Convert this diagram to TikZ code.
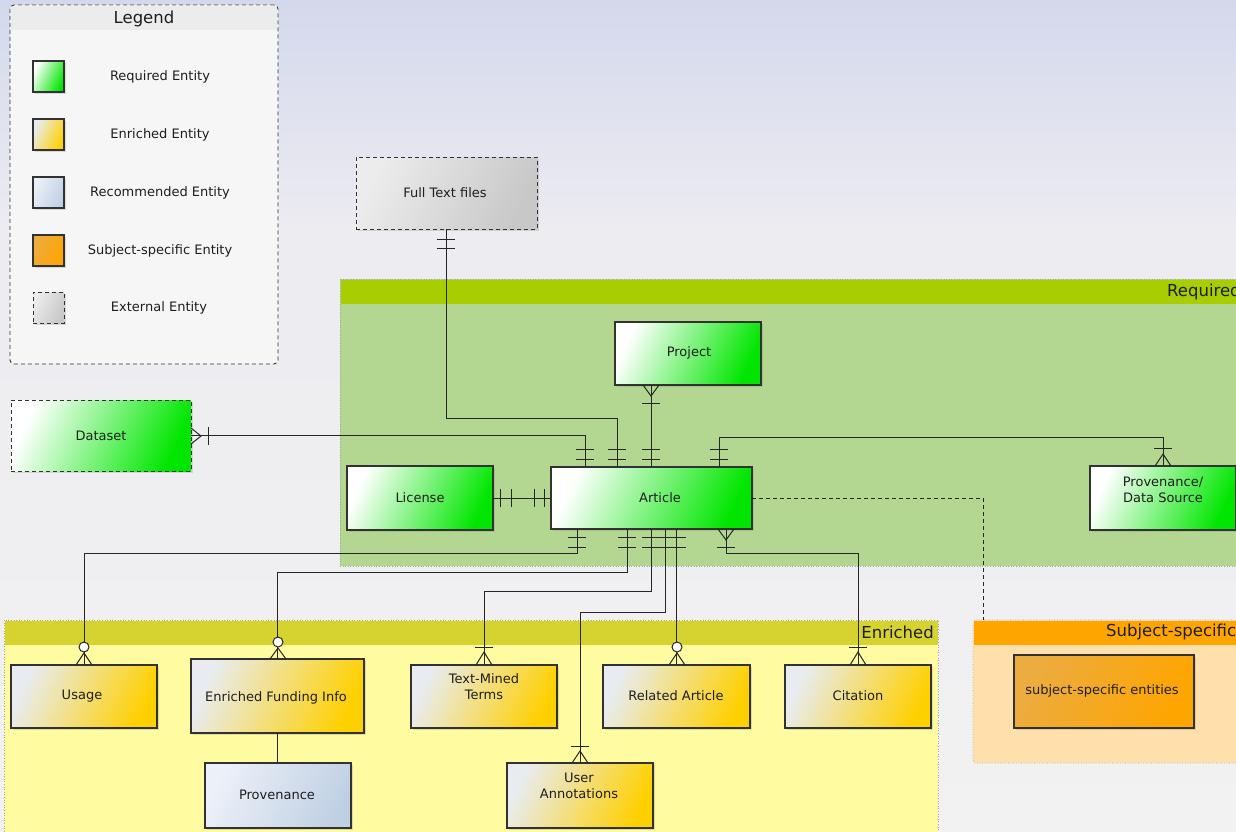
\documentclass[tikz,border=0pt]{standalone}
\usepackage{fontspec}
\setmainfont{DejaVu Sans}
\usetikzlibrary{shadows,calc}
\definecolor{grn}{RGB}{0,230,0}
\definecolor{gold}{RGB}{255,208,0}
\definecolor{enrl}{RGB}{232,236,240}
\definecolor{recl}{RGB}{236,240,248}
\definecolor{recr}{RGB}{192,208,228}
\definecolor{subl}{RGB}{236,172,64}
\definecolor{subr}{RGB}{255,165,0}
\definecolor{extl}{RGB}{236,236,236}
\definecolor{extr}{RGB}{200,200,200}
\definecolor{bord}{RGB}{50,50,50}
\definecolor{txt}{RGB}{30,30,30}
\definecolor{reqhead}{RGB}{168,205,0}
\definecolor{reqbody}{RGB}{179,215,145}
\definecolor{enrhead}{RGB}{214,210,48}
\definecolor{enrbody}{RGB}{255,251,160}
\definecolor{subhead}{RGB}{255,165,0}
\definecolor{subbody}{RGB}{255,224,170}
\definecolor{legbody}{RGB}{246,246,246}
\definecolor{leghead}{RGB}{236,236,236}
\definecolor{bgtop}{RGB}{212,216,236}
\definecolor{bgmid}{RGB}{236,236,241}
\definecolor{bgbot}{RGB}{242,242,242}
\newcommand\erbarh[2]{\draw[er] (#1-9,#2) -- (#1+9,#2);}
\newcommand\erbarv[2]{\draw[er] (#1,#2-9) -- (#1,#2+9);}
\newcommand\ercrow[3]{\draw[er] (#1-8,#3) -- (#1,#2) -- (#1+8,#3);}
\newcommand\erring[2]{\draw[er,fill=white] (#1,#2) circle (5);}
\begin{document}
\begin{tikzpicture}[x=1pt,y=-1pt,
  ent/.style={draw=bord, line width=1.1pt, inner sep=0pt, outer sep=0pt, anchor=north west,
    drop shadow={shadow xshift=2pt, shadow yshift=-2pt, opacity=0.25}},
  reqfill/.style={left color=white, right color=grn, shading angle=65},
  enrfill/.style={left color=enrl, right color=gold, shading angle=65},
  recfill/.style={left color=recl, right color=recr, shading angle=65},
  subfill/.style={left color=subl, right color=subr, shading angle=65},
  extfill/.style={left color=extl, right color=extr, shading angle=65},
  dsh/.style={dash pattern=on 4pt off 3pt},
  lbl/.style={font=\fontsize{13}{16}\selectfont, text=txt, align=center, inner sep=0pt},
  hdr/.style={font=\fontsize{16.5}{18}\selectfont, text=txt, inner sep=0pt},
  er/.style={draw=black!85, line width=1pt},
  grp/.style={draw=gray!70, dotted, line width=0.6pt, anchor=north west, inner sep=0pt, outer sep=0pt},
]
\useasboundingbox (0,0) rectangle (1236,831);
\clip (0,0) rectangle (1236,831);
% background
\shade[top color=bgtop, bottom color=bgmid] (0,0) rectangle (1236,230);
\shade[top color=bgmid, bottom color=bgbot] (0,229.5) rectangle (1236,831);

% groups
\node[grp, fill=reqbody, minimum width=910, minimum height=287] (reqgrp) at (340,279) {};
\fill[reqhead] (340.5,279.5) rectangle (1240,304);
\node[hdr, anchor=west] (reqlbl) at (1167,292) {Required};

\node[grp, fill=enrbody, minimum width=934, minimum height=230] (enrgrp) at (4,620) {};
\fill[enrhead] (4.5,620.5) rectangle (937.5,645);
\node[hdr, anchor=east] (enrlbl) at (934,632) {Enriched};

\node[grp, fill=subbody, minimum width=280, minimum height=143, rounded corners=3] (subgrp) at (973,620) {};
\fill[subhead] (973.5,620.5) rectangle (1240,645);
\node[hdr, anchor=west] (sublbl) at (1106,632) {Subject-specific};

% legend
\node[draw=bord, dsh, line width=0.9pt, fill=legbody, rounded corners=4, anchor=north west,
  minimum width=268, minimum height=359, inner sep=0pt, outer sep=0pt] (legend) at (10,5) {};
\fill[leghead] (10.6,9) rectangle (277.4,30);
\fill[leghead, rounded corners=4] (10.6,5.6) rectangle (277.4,14);
\node[hdr] (legtitle) at (144,19) {Legend};
\node[ent, reqfill, minimum width=31, minimum height=31] (sw1) at (33,61) {};
\node[ent, enrfill, minimum width=31, minimum height=31] (sw2) at (33,119) {};
\node[ent, recfill, minimum width=31, minimum height=31] (sw3) at (33,177) {};
\node[ent, subfill, minimum width=31, minimum height=31] (sw4) at (33,235) {};
\node[ent, extfill, dsh, line width=0.9pt, minimum width=31, minimum height=31] (sw5) at (33,292) {};
\node[lbl] (lg1) at (160,77) {Required Entity};
\node[lbl] (lg2) at (160,135) {Enriched Entity};
\node[lbl] (lg3) at (160,193) {Recommended Entity};
\node[lbl] (lg4) at (160,251) {Subject-specific Entity};
\node[lbl] (lg5) at (159,308) {External Entity};

% entity boxes
\node[ent, extfill, dsh, line width=0.9pt, minimum width=181, minimum height=72] (fulltext) at (356,157) {};
\node[ent, reqfill, minimum width=146, minimum height=63] (project) at (615,322) {};
\node[ent, reqfill, line width=2.6pt, minimum width=201, minimum height=62] (article) at (551,467) {};
\node[ent, reqfill, minimum width=146, minimum height=64] (license) at (347,466) {};
\node[ent, reqfill, minimum width=146, minimum height=64] (provds) at (1090,466) {};
\node[ent, reqfill, dsh, line width=0.9pt, minimum width=180, minimum height=71] (dataset) at (11,400) {};
\node[ent, enrfill, minimum width=146, minimum height=63] (usage) at (11,665) {};
\node[ent, enrfill, minimum width=173, minimum height=74] (efi) at (191,659) {};
\node[ent, enrfill, minimum width=146, minimum height=63] (tmt) at (411,665) {};
\node[ent, enrfill, minimum width=147, minimum height=63] (ra) at (603,665) {};
\node[ent, enrfill, minimum width=146, minimum height=63] (citation) at (785,665) {};
\node[ent, recfill, minimum width=146, minimum height=65] (prov) at (205,763) {};
\node[ent, enrfill, minimum width=146, minimum height=65] (ua) at (507,763) {};
\node[ent, subfill, minimum width=180, minimum height=73] (subent) at (1014,655) {};

% connectors
\draw[er] (fulltext.south) -- (fulltext.south |- 0,418) -| ([xshift=66]article.north west);
\draw[er] (dataset.east) -| ([xshift=34]article.north west);
\draw[er] (project.south -| 651,0) -- ([xshift=100]article.north west);
\draw[er] ([xshift=168]article.north west) -- ++(0,-30) -| (provds.north);
\draw[er] (license.east) -- (article.west);
\draw[er, dsh] (article.east) -| ([xshift=10]subgrp.north west);
\draw[er] ([xshift=26]article.south west) -- ++(0,24) -| (usage.north);
\draw[er] ([xshift=76]article.south west) -- ++(0,43) -| (efi.north);
\draw[er] ([xshift=100]article.south west) -- ++(0,62) -| (tmt.north);
\draw[er] ([xshift=114]article.south west) -- ++(0,83) -| (ua.north);
\draw[er] (article.south -| ra.north) -- (ra.north);
\draw[er] ([xshift=175]article.south west) -- ++(0,24) -| (citation.north);
\draw[er] (efi.south) -- (prov.north -| efi.south);

% ER marks
\erbarh{446}{239}\erbarh{446}{248}
\foreach \xx in {585,617,651,719} {\erbarh{\xx}{449}\erbarh{\xx}{459}}
\draw[er] (191,428) -- (201,436) -- (191,444);
\erbarv{208}{436}
\ercrow{651}{396}{385}\erbarh{651}{403}
\erbarh{1163}{448}\ercrow{1163}{454}{466}
\erbarv{500}{498}\erbarv{511}{498}\erbarv{534}{498}\erbarv{544}{498}
\foreach \xx in {577,627,651,665,677} {\erbarh{\xx}{537}\erbarh{\xx}{547}}
\ercrow{726}{540}{529}\erbarh{726}{547}
\ercrow{84}{653}{665}\erring{84}{647}
\ercrow{278}{648}{659}\erring{278}{642}
\ercrow{484}{652}{665}\erbarh{484}{647}
\ercrow{580}{751}{763}\erbarh{580}{746}
\ercrow{677}{653}{665}\erring{677}{647}
\ercrow{858}{652}{665}\erbarh{858}{647}

% labels
\node[lbl] (fulltextt) at (445,193) {Full Text files};
\node[lbl] (projectt) at (689,353) {Project};
\node[lbl] (articlet) at (660,498) {Article};
\node[lbl] (licenset) at (420,498) {License};
\node[lbl] (provdst) at (1163,490) {Provenance/\\Data Source};
\node[lbl] (datasett) at (101,436) {Dataset};
\node[lbl] (usaget) at (82,696) {Usage};
\node[lbl] (efit) at (276,698) {Enriched Funding Info};
\node[lbl] (tmtt) at (484,687) {Text-Mined\\Terms};
\node[lbl] (rat) at (676,696) {Related Article};
\node[lbl] (citationt) at (858,696) {Citation};
\node[lbl] (provt) at (277,795) {Provenance};
\node[lbl] (uat) at (579,786) {User\\Annotations};
\node[lbl] (subentt) at (1102,691) {subject-specific entities};
\end{tikzpicture}
\end{document}
